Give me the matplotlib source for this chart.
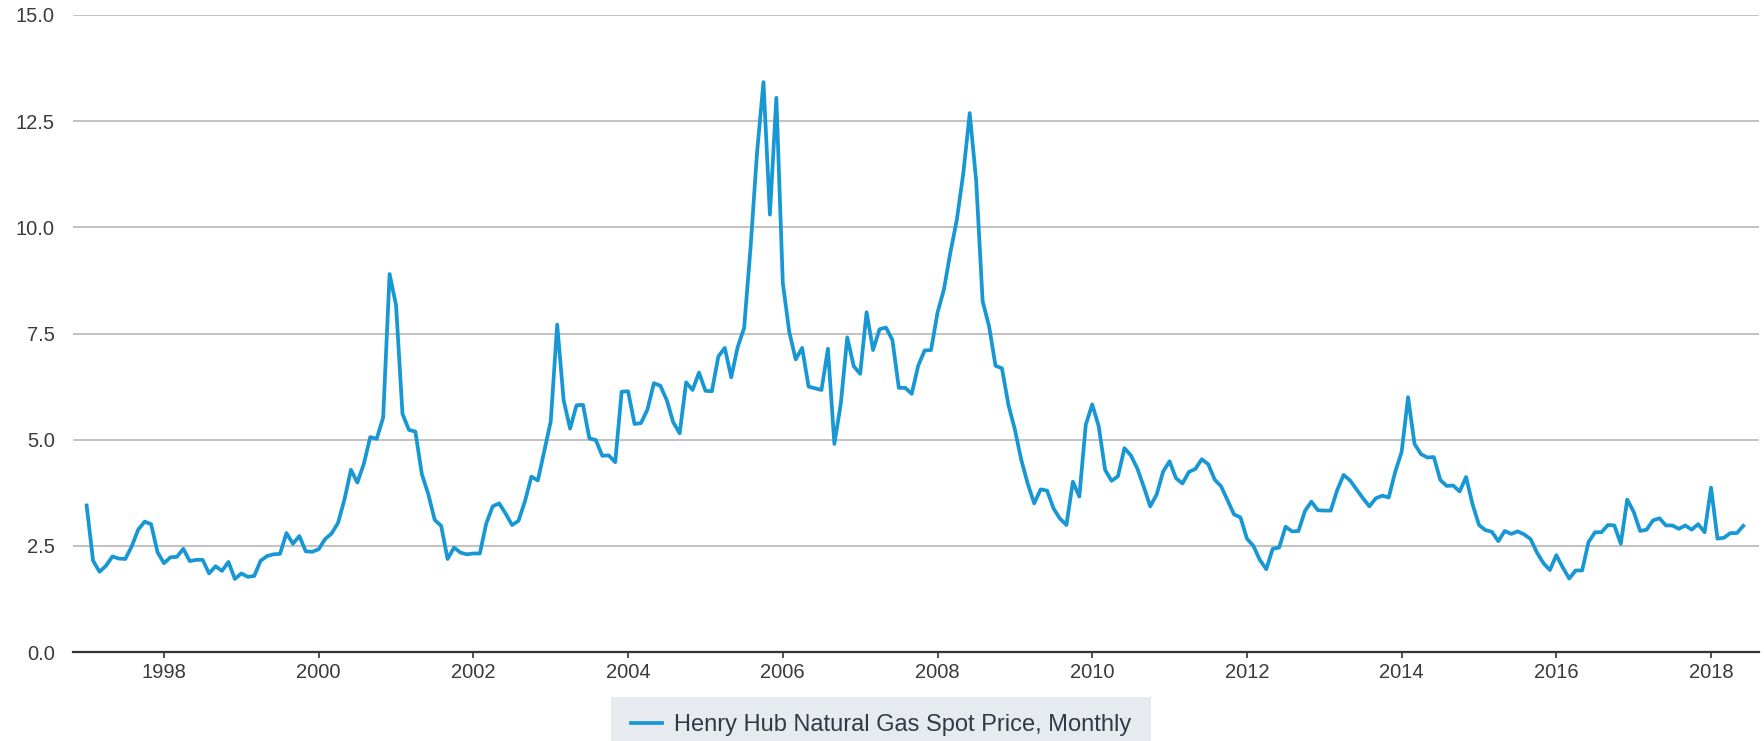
import matplotlib
matplotlib.use("Agg")
import matplotlib.pyplot as plt
from matplotlib.patches import Rectangle
import numpy as np

plt.rcParams['font.family'] = ['Liberation Sans', 'DejaVu Sans']

# Henry Hub monthly spot price, Jan 1997 .. Jun 2018
start_year = 1997
prices = [
    # 1997
    3.45, 2.15, 1.89, 2.03, 2.25, 2.20, 2.19, 2.49, 2.88, 3.07, 3.01, 2.35,
    # 1998
    2.09, 2.23, 2.24, 2.43, 2.14, 2.17, 2.17, 1.85, 2.02, 1.91, 2.12, 1.72,
    # 1999
    1.85, 1.77, 1.79, 2.15, 2.26, 2.30, 2.31, 2.80, 2.55, 2.73, 2.37, 2.36,
    # 2000
    2.42, 2.66, 2.79, 3.04, 3.59, 4.29, 3.99, 4.43, 5.06, 5.02, 5.52, 8.90,
    # 2001
    8.17, 5.61, 5.23, 5.19, 4.19, 3.72, 3.11, 2.97, 2.19, 2.46, 2.34, 2.30,
    # 2002
    2.32, 2.32, 3.03, 3.43, 3.50, 3.26, 2.99, 3.09, 3.55, 4.13, 4.04, 4.74,
    # 2003
    5.43, 7.71, 5.93, 5.26, 5.81, 5.82, 5.03, 4.99, 4.62, 4.63, 4.47, 6.13,
    # 2004
    6.14, 5.37, 5.39, 5.71, 6.33, 6.27, 5.93, 5.41, 5.15, 6.35, 6.17, 6.58,
    # 2005
    6.15, 6.14, 6.96, 7.16, 6.47, 7.18, 7.63, 9.53, 11.75, 13.42, 10.30, 13.05,
    # 2006
    8.69, 7.54, 6.89, 7.16, 6.25, 6.21, 6.17, 7.14, 4.90, 5.85, 7.41, 6.73,
    # 2007
    6.55, 8.00, 7.11, 7.60, 7.64, 7.35, 6.22, 6.22, 6.08, 6.74, 7.10, 7.11,
    # 2008
    7.99, 8.54, 9.41, 10.18, 11.27, 12.69, 11.09, 8.26, 7.67, 6.74, 6.68, 5.82,
    # 2009
    5.24, 4.52, 3.96, 3.50, 3.83, 3.80, 3.38, 3.14, 2.99, 4.01, 3.66, 5.35,
    # 2010
    5.83, 5.32, 4.29, 4.03, 4.14, 4.80, 4.63, 4.32, 3.89, 3.43, 3.71, 4.25,
    # 2011
    4.49, 4.09, 3.97, 4.24, 4.31, 4.54, 4.42, 4.06, 3.90, 3.57, 3.24, 3.17,
    # 2012
    2.67, 2.50, 2.17, 1.95, 2.43, 2.46, 2.95, 2.84, 2.85, 3.32, 3.54, 3.34,
    # 2013
    3.33, 3.33, 3.81, 4.17, 4.04, 3.83, 3.62, 3.43, 3.62, 3.68, 3.64, 4.24,
    # 2014
    4.71, 6.00, 4.90, 4.66, 4.58, 4.59, 4.05, 3.91, 3.92, 3.78, 4.12, 3.48,
    # 2015
    2.99, 2.87, 2.83, 2.61, 2.85, 2.78, 2.84, 2.77, 2.66, 2.34, 2.09, 1.93,
    # 2016
    2.28, 1.99, 1.73, 1.92, 1.92, 2.59, 2.82, 2.82, 2.99, 2.98, 2.55, 3.59,
    # 2017
    3.30, 2.85, 2.88, 3.10, 3.15, 2.98, 2.98, 2.90, 2.98, 2.88, 3.01, 2.82,
    # 2018
    3.87, 2.67, 2.69, 2.80, 2.80, 2.97,
]
series_name = "Henry Hub Natural Gas Spot Price, Monthly"
y_ticks = [0.0, 2.5, 5.0, 7.5, 10.0, 12.5, 15.0]
x_ticks = list(range(1998, 2019, 2))

months = start_year + np.arange(len(prices)) / 12.0

W, H = 1764, 741
fig = plt.figure(figsize=(W / 100, H / 100), dpi=100)
ax = fig.add_axes([72.7 / W, 89 / H, (1759 - 72.7) / W, (652 - 15) / H])

ax.plot(months, prices, color='#1797d4', lw=2.7, label=series_name,
        solid_joinstyle='round')

ax.set_ylim(0, 15)
ax.set_xlim(1996.82, 2018.62)
ax.set_yticks(y_ticks)
ax.set_yticklabels([f"{v:.1f}" for v in y_ticks])
ax.set_xticks(x_ticks)
ax.set_xticklabels([str(v) for v in x_ticks])

ax.grid(axis='y', color='#bdbdbd', lw=1.3)
ax.set_axisbelow(True)
for s in ['top', 'right', 'left']:
    ax.spines[s].set_visible(False)
ax.spines['bottom'].set_color('#333333')
ax.spines['bottom'].set_linewidth(1.6)

ax.tick_params(axis='y', length=0, pad=13, labelsize=14.5, labelcolor='#3a3a3a')
ax.tick_params(axis='x', length=4.5, width=1.2, color='#333333', pad=3.5,
               labelsize=14.5, labelcolor='#3a3a3a')

# legend background strip at the bottom
fig.patches.append(Rectangle((611 / W, 0), (1151 - 611) / W, (H - 697) / H,
                             transform=fig.transFigure, facecolor='#e7ebef',
                             edgecolor='none', zorder=0))
leg = fig.legend(loc='center', bbox_to_anchor=(881 / W, (H - 725) / H), fontsize=17,
                 frameon=False, borderpad=0, handlelength=1.35, handletextpad=0.5)
for t in leg.get_texts():
    t.set_color('#333a45')

fig.savefig('out.png', dpi=100)
